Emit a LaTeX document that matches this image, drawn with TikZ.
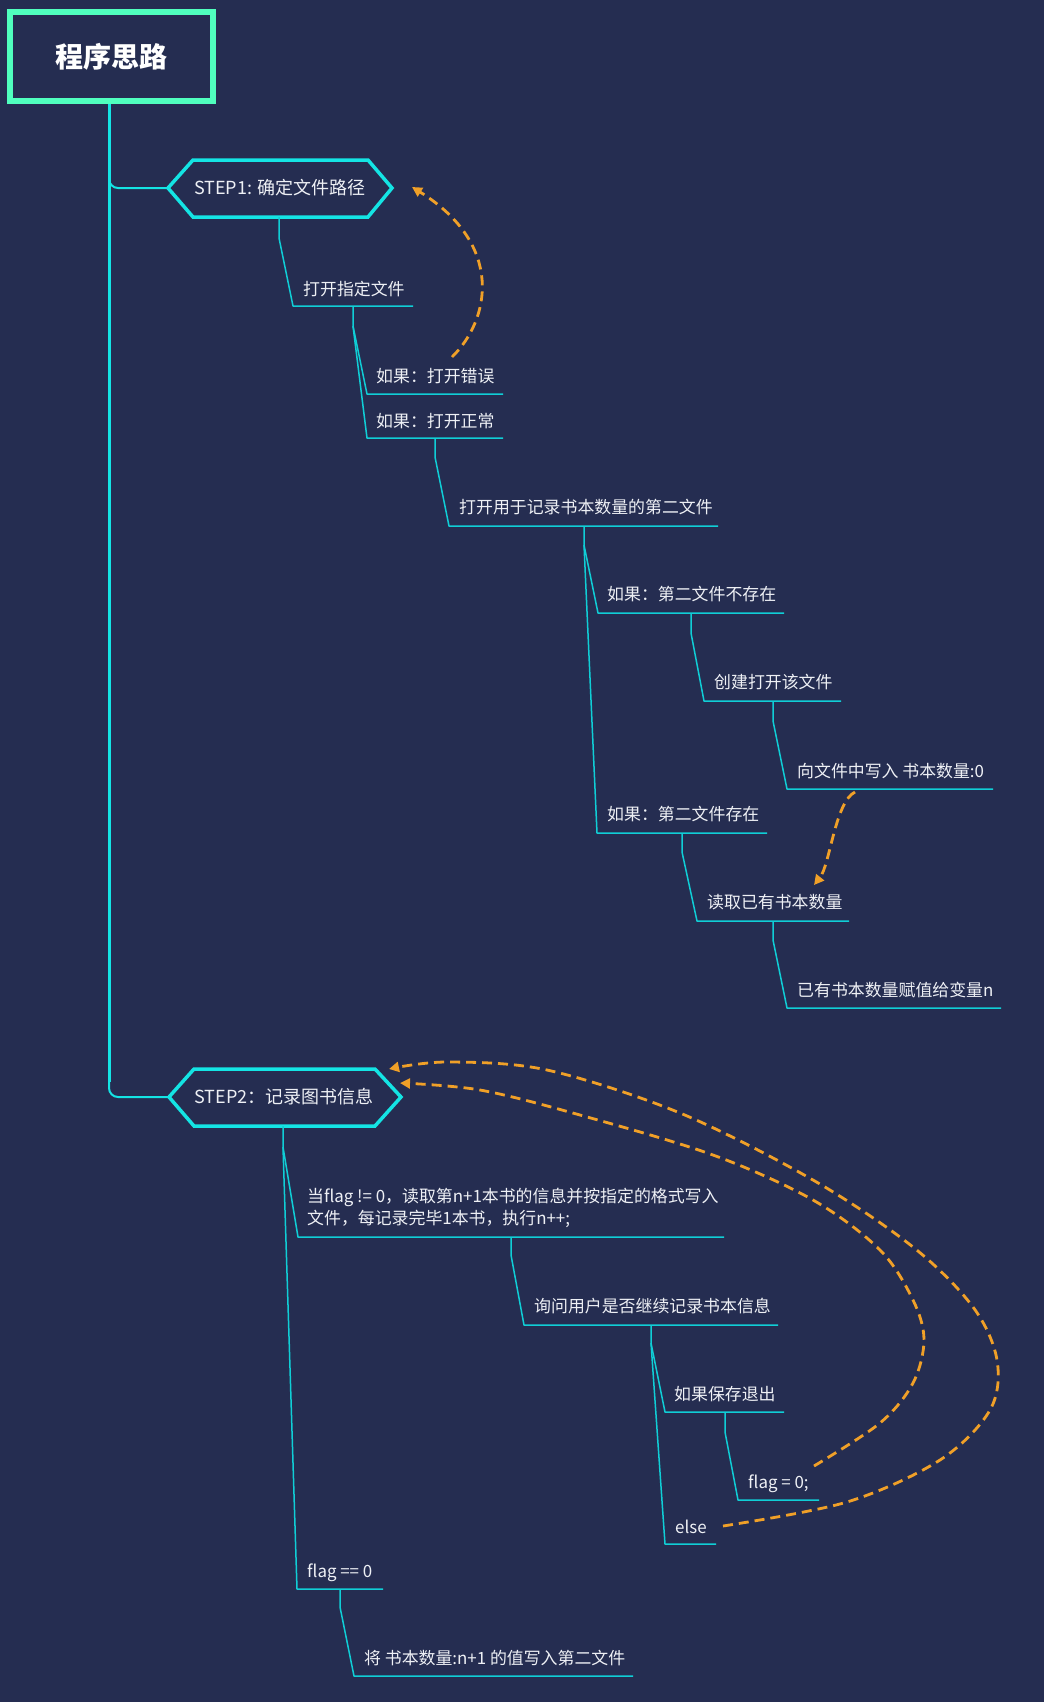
\documentclass[tikz,border=0pt]{standalone}
\usepackage{fontspec}
\setmainfont{Noto Sans CJK SC}
\usetikzlibrary{arrows.meta}
\definecolor{bgC}{RGB}{37,45,81}
\definecolor{hexC}{RGB}{20,228,228}
\definecolor{lineC}{RGB}{16,206,214}
\definecolor{rootC}{RGB}{80,255,190}
\definecolor{orgC}{RGB}{240,160,40}
\definecolor{txtC}{RGB}{238,240,245}
\tikzset{
  trunk/.style={draw=hexC, line width=3pt},
  branch/.style={draw=hexC, line width=2pt, rounded corners=9pt},
  sub/.style={draw=lineC, line width=1.5pt, line join=round},
  txt/.style={anchor=base west, inner sep=0pt, text=txtC, font=\fontsize{16.9}{22}\selectfont},
  steptxt/.style={inner sep=0pt, text=txtC, font=\fontsize{18}{20}\selectfont},
  hexa/.style={draw=hexC, line width=3.5pt, line join=miter},
  loopline/.style={draw=orgC, line width=2.8pt, dash pattern=on 10pt off 6pt, -{Triangle[length=10pt,width=10pt]}},
}
\begin{document}
\begin{tikzpicture}[x=1pt,y=-1pt]
\fill[bgC] (0,0) rectangle (1044,1702);
\useasboundingbox (0,0) rectangle (1044,1702);

% root
\node[draw=rootC, line width=6pt, minimum width=203pt, minimum height=89pt, inner sep=0pt,
      text=white, font=\fontsize{28}{30}\selectfont\bfseries] (root) at (111.5,56.5) {程序思路};
\coordinate (tk) at (109,104);
\draw[trunk] (tk) -- (109,1082);

% STEP1
\coordinate (s1w) at (168,188);
\draw[hexa] (s1w) -- (193,160) -- (368,160) -- (392,188) -- (368,217) -- (193,217) -- cycle;
\node[steptxt] (s1) at (280,188) {STEP1: 确定文件路径};
\draw[branch] (109,160) |- (s1w);

% STEP2
\coordinate (s2w) at (169,1097);
\draw[hexa] (s2w) -- (194,1069) -- (375,1069) -- (401,1097) -- (375,1126) -- (194,1126) -- cycle;
\node[steptxt] (s2) at (284,1097) {STEP2：记录图书信息};
\draw[branch] (109,1070) |- (s2w);

% ---- STEP1 subtree
\coordinate (s1s) at (279,217);
\coordinate (aL) at (293,306);
\node[txt] (a) at (303,295) {打开指定文件};
\draw[sub] (s1s) -- (279,238) -- (aL) -- (413,306);

\coordinate (aB) at (353,306);
\coordinate (aK) at (353,326);
\coordinate (bL) at (367,394);
\node[txt] (b) at (376,382) {如果：打开错误};
\draw[sub] (aB) -- (aK) -- (bL) -- (503,394);

\coordinate (cL) at (367,438);
\node[txt] (c) at (376,427) {如果：打开正常};
\draw[sub] (aK) -- (cL) -- (503,438);

\coordinate (cB) at (435,438);
\coordinate (dL) at (449,526);
\node[txt] (d) at (459,513) {打开用于记录书本数量的第二文件};
\draw[sub] (cB) -- (435,457) -- (dL) -- (718,526);

\coordinate (dB) at (584,526);
\coordinate (dK) at (584,545);
\coordinate (eL) at (598,613);
\node[txt] (e) at (607,600) {如果：第二文件不存在};
\draw[sub] (dB) -- (dK) -- (eL) -- (784,613);

\coordinate (eB) at (691,613);
\coordinate (fL) at (704,701);
\node[txt] (f) at (714,688) {创建打开该文件};
\draw[sub] (eB) -- (691,633) -- (fL) -- (841,701);

\coordinate (fB) at (773,701);
\coordinate (gL) at (787,789);
\node[txt] (g) at (797,777) {向文件中写入 书本数量:0};
\draw[sub] (fB) -- (773,721) -- (gL) -- (993,789);

\coordinate (hL) at (597,833);
\node[txt] (h) at (607,820) {如果：第二文件存在};
\draw[sub] (dK) -- (hL) -- (767,833);

\coordinate (hB) at (682,833);
\coordinate (iL) at (697,921);
\node[txt] (i) at (707,908) {读取已有书本数量};
\draw[sub] (hB) -- (682,852) -- (iL) -- (849,921);

\coordinate (iB) at (773,921);
\coordinate (jL) at (787,1008);
\node[txt] (j) at (797,996) {已有书本数量赋值给变量n};
\draw[sub] (iB) -- (773,940) -- (jL) -- (1001,1008);

% ---- STEP2 subtree
\coordinate (s2s) at (283,1126);
\coordinate (s2K) at (283,1147);
\coordinate (kL) at (298,1237);
\node[anchor=west, inner sep=0pt, text=txtC, align=left, font=\fontsize{16.9}{22}\selectfont] (k) at (307,1208)
  {当flag != 0，读取第n+1本书的信息并按指定的格式写入\\文件，每记录完毕1本书，执行n++;};
\draw[sub] (s2s) -- (s2K) -- (kL) -- (724,1237);

\coordinate (kB) at (511,1237);
\coordinate (lL) at (524,1325);
\node[txt] (l) at (534,1312) {询问用户是否继续记录书本信息};
\draw[sub] (kB) -- (511,1255) -- (lL) -- (778,1325);

\coordinate (lB) at (651,1325);
\coordinate (lK) at (651,1343);
\coordinate (mL) at (665,1412);
\node[txt] (m) at (674,1400) {如果保存退出};
\draw[sub] (lB) -- (lK) -- (mL) -- (784,1412);

\coordinate (mB) at (725,1412);
\coordinate (nL) at (738,1500);
\node[txt] (n) at (748,1488) {flag = 0;};
\draw[sub] (mB) -- (725,1432) -- (nL) -- (819,1500);

\coordinate (oL) at (665,1544);
\node[txt] (o) at (675,1533) {else};
\draw[sub] (lK) -- (oL) -- (716,1544);

\coordinate (pL) at (297,1589);
\node[txt] (p) at (307,1577) {flag == 0};
\draw[sub] (s2K) -- (pL) -- (383,1589);

\coordinate (pB) at (340,1589);
\coordinate (qL) at (354,1676);
\node[txt] (q) at (364,1664) {将 书本数量:n+1 的值写入第二文件};
\draw[sub] (pB) -- (340,1607) -- (qL) -- (633,1676);

% ---- orange loops
\coordinate (l1a) at (452,357);
\coordinate (l1b) at (412,187);
\draw[loopline] (l1a) .. controls (490,320) and (505,245) .. (l1b);

\coordinate (l2a) at (855,792);
\coordinate (l2b) at (814,885);
\draw[loopline] (l2a) .. controls (835,802) and (830,865) .. (l2b);

\coordinate (l3a) at (814,1466);
\coordinate (l3b) at (400,1083);
\draw[loopline] plot[smooth, tension=0.55] coordinates {(l3a) (880,1423) (913,1383) (924,1340) (913,1300) (880,1250) (813,1200) (713,1155) (580,1115) (480,1090) (l3b)};

\coordinate (l4a) at (723,1526);
\coordinate (l4b) at (389,1069);
\draw[loopline] plot[smooth, tension=0.55] coordinates {(l4a) (847,1502) (940,1460) (990,1410) (997,1360) (973,1307) (913,1247) (813,1180) (680,1113) (547,1070) (447,1062) (l4b)};
\end{tikzpicture}
\end{document}
